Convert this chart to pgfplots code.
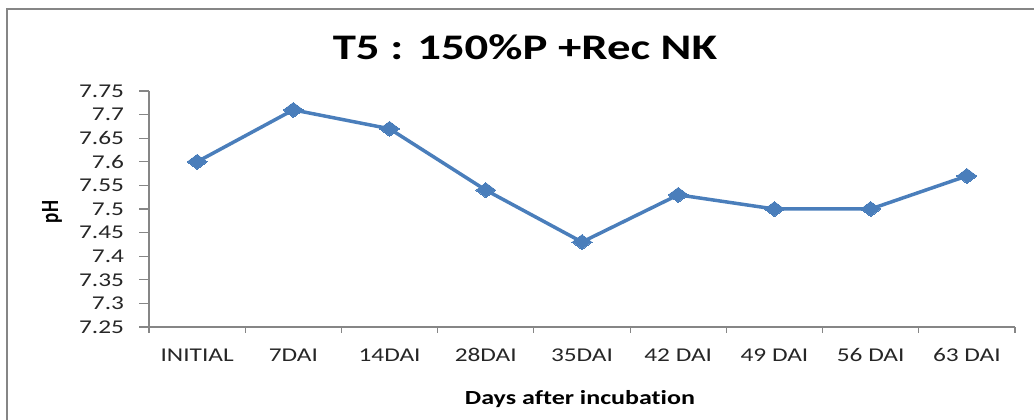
\documentclass[border=0pt]{standalone}
\usepackage{pgfplots}
\pgfplotsset{compat=1.18}
\usepackage{fontspec}
\setmainfont[Ligatures=NoCommon]{Carlito}
\definecolor{lineblue}{HTML}{4A7EBB}
\definecolor{axgray}{HTML}{868686}
\newcommand{\sx}[1]{\scalebox{1.3}[1]{#1}}
\begin{document}
\begin{tikzpicture}
\useasboundingbox (0,0) rectangle (1034pt,420pt);
\draw[axgray, line width=2pt] (7pt,0) -- (7pt,411pt) -- (1034pt,411pt);
\node at (525pt,373pt) {\sx{\fontsize{36}{40}\selectfont\bfseries T5 : 150\%P +Rec NK}};
\node at (580pt,21pt) {\sx{\fontsize{20}{23}\selectfont\bfseries Days after incubation}};
\node[rotate=90] at (52pt,208pt) {\scalebox{1}[1.3]{\fontsize{19}{22}\selectfont\bfseries pH}};
\begin{axis}[
  at={(149pt,93pt)}, anchor=south west,
  scale only axis, width=866pt, height=236pt,
  xmin=-0.5, xmax=8.5, ymin=7.25, ymax=7.75,
  axis x line*=bottom, axis y line*=left,
  axis line style={axgray, line width=1.2pt},
  every tick/.style={axgray, line width=1.2pt},
  tick align=outside,
  major tick length=10pt, minor tick length=6pt,
  xtick={0,...,8},
  xticklabels={INITIAL,7DAI,14DAI,28DAI,35DAI,42 DAI,49 DAI,56 DAI,63 DAI},
  major x tick style={draw=none},
  minor xtick={-0.5,0.5,1.5,2.5,3.5,4.5,5.5,6.5,7.5,8.5},
  ytick={7.25,7.3,7.35,7.4,7.45,7.5,7.55,7.6,7.65,7.7,7.75},
  yticklabels={7.25,7.3,7.35,7.4,7.45,7.5,7.55,7.6,7.65,7.7,7.75},
  ticklabel style={text=black!85, xscale=1.3, font=\fontsize{19.5}{22}\selectfont},
  x tick label style={yshift=-8pt},
  y tick label style={xshift=-8pt},
  clip=false,
]
\addplot[lineblue, line width=3.5pt, mark=diamond*, mark size=7.5pt,
  mark options={xscale=1.78, fill=lineblue, draw=lineblue, line width=0pt}]
  coordinates {(0,7.60) (1,7.71) (2,7.67) (3,7.54) (4,7.43) (5,7.53) (6,7.50) (7,7.50) (8,7.57)};
\end{axis}
\end{tikzpicture}
\end{document}
